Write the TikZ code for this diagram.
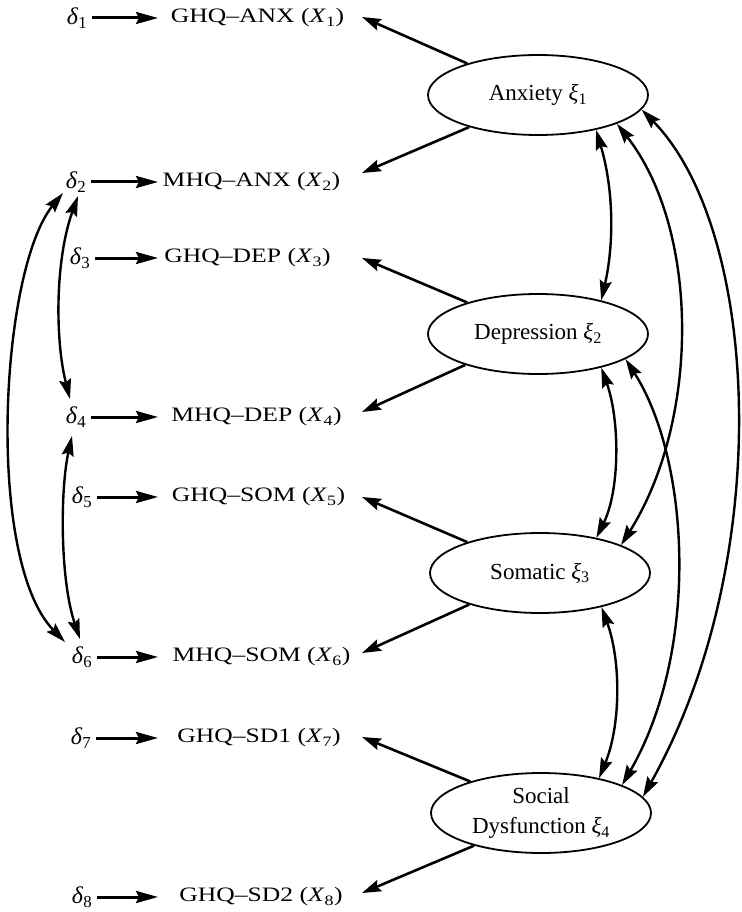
\documentclass[tikz,border=0pt]{standalone}
\usepackage{fontspec}
\setmainfont{Liberation Serif}
\newfontfamily\labfont[FakeStretch=1.25]{Liberation Serif}
\usetikzlibrary{arrows.meta,shapes.geometric,calc}
\begin{document}
\begin{tikzpicture}[x=1pt,y=-1pt,
  lat/.style={draw, ellipse, line width=1.8pt, minimum width=220pt, minimum height=80pt, inner sep=0pt, font=\fontsize{23}{30}\selectfont, align=center},
  obs/.style={font=\labfont\fontsize{20.5}{24}\selectfont, inner sep=0pt},
  err/.style={font=\fontsize{24}{28}\selectfont, inner sep=1pt},
  ld/.style={line width=2.6pt, -{Stealth[length=19pt,width=12pt,inset=3pt]}},
  ea/.style={line width=3pt, shorten <=4pt, -{Stealth[length=22pt,width=12pt,inset=3pt]}},
  cov/.style={line width=2.4pt, {Stealth[length=20pt,width=12pt,inset=3pt]}-{Stealth[length=20pt,width=12pt,inset=3pt]}},
]
\useasboundingbox (0,0) rectangle (741,912);

% latent variables
\node[lat] (anx) at (538,95) {Anxiety \textit{ξ}\textsubscript{1}};
\node[lat] (dep) at (538,334) {Depression \textit{ξ}\textsubscript{2}};
\node[lat] (som) at (540,573) {Somatic \textit{ξ}\textsubscript{3}};
\node[lat] (sd) at (541,813) {Social\\Dysfunction \textit{ξ}\textsubscript{4}};

% error terms
\node[err] (d1) at (77,18) {\textit{δ}\textsubscript{1}};
\node[err] (d2) at (76,182) {\textit{δ}\textsubscript{2}};
\node[err] (d3) at (80,258) {\textit{δ}\textsubscript{3}};
\node[err] (d4) at (76,417) {\textit{δ}\textsubscript{4}};
\node[err] (d5) at (82,497) {\textit{δ}\textsubscript{5}};
\node[err] (d6) at (82,657) {\textit{δ}\textsubscript{6}};
\node[err] (d7) at (81,738) {\textit{δ}\textsubscript{7}};
\node[err] (d8) at (82,897) {\textit{δ}\textsubscript{8}};

% observed variables
\node[obs] (x1) at (257.5,18) {GHQ–ANX (\textit{X}\textsubscript{1})};
\node[obs] (x2) at (251.5,182) {MHQ–ANX (\textit{X}\textsubscript{2})};
\node[obs] (x3) at (247.5,258) {GHQ–DEP (\textit{X}\textsubscript{3})};
\node[obs] (x4) at (256.5,417) {MHQ–DEP (\textit{X}\textsubscript{4})};
\node[obs] (x5) at (258.5,497) {GHQ–SOM (\textit{X}\textsubscript{5})};
\node[obs] (x6) at (261.5,657) {MHQ–SOM (\textit{X}\textsubscript{6})};
\node[obs] (x7) at (259,738) {GHQ–SD1 (\textit{X}\textsubscript{7})};
\node[obs] (x8) at (261,897) {GHQ–SD2 (\textit{X}\textsubscript{8})};

\coordinate (tipL) at (158,0);
\coordinate (tipR) at (362,0);

% error arrows
\foreach \i in {1,...,8}{
  \draw[ea] (d\i.east) -- (d\i.east -| tipL);
}

% loadings
\draw[ld] (anx.156.9) -- ($(x1.east -| tipR)+(0,-1)$);
\draw[ld] (anx.205.2) -- ($(x2.east -| tipR)+(0,-9)$);
\draw[ld] (dep.156.3) -- ($(x3.east -| tipR)+(0,0)$);
\draw[ld] (dep.203.9) -- ($(x4.east -| tipR)+(0,-5)$);
\draw[ld] (som.157) -- ($(x5.east -| tipR)+(0,0)$);
\draw[ld] (som.204.6) -- ($(x6.east -| tipR)+(0,-4)$);
\draw[ld] (sd.156.4) -- ($(x7.east -| tipR)+(0,-1)$);
\draw[ld] (sd.206.6) -- ($(x8.east -| tipR)+(0,-4)$);

% factor covariances
\draw[cov] (anx.-31.5) .. controls (614,190) and (614,245) .. (dep.28.2);
\draw[cov] (anx.-20.2) .. controls (700,230) and (700,420) .. (som.19);
\draw[cov] (anx.-8.8) .. controls (760,230) and (776,560) .. (sd.9.5);
\draw[cov] (dep.-28.8) .. controls (620,420) and (620,490) .. (som.32.8);
\draw[cov] (dep.-16.6) .. controls (690,460) and (700,650) .. (sd.19.2);
\draw[cov] (som.-29) .. controls (621,660) and (621,725) .. (sd.31.2);

% error covariances
\coordinate (d2a) at ($(d2.center)+(-13,11)$);
\coordinate (d2b) at ($(d2.center)+(2,14)$);
\coordinate (d4a) at ($(d4.center)+(-6,-18)$);
\coordinate (d4b) at ($(d4.center)+(-4,19)$);
\coordinate (d6a) at ($(d6.center)+(-17,-15)$);
\coordinate (d6b) at ($(d6.center)+(-2,-18)$);
\draw[cov] (d2a) .. controls (0,270) and (-15,560) .. (d6a);
\draw[cov] (d2b) .. controls (55,260) and (55,340) .. (d4a);
\draw[cov] (d4b) .. controls (60,490) and (60,580) .. (d6b);
\end{tikzpicture}
\end{document}
